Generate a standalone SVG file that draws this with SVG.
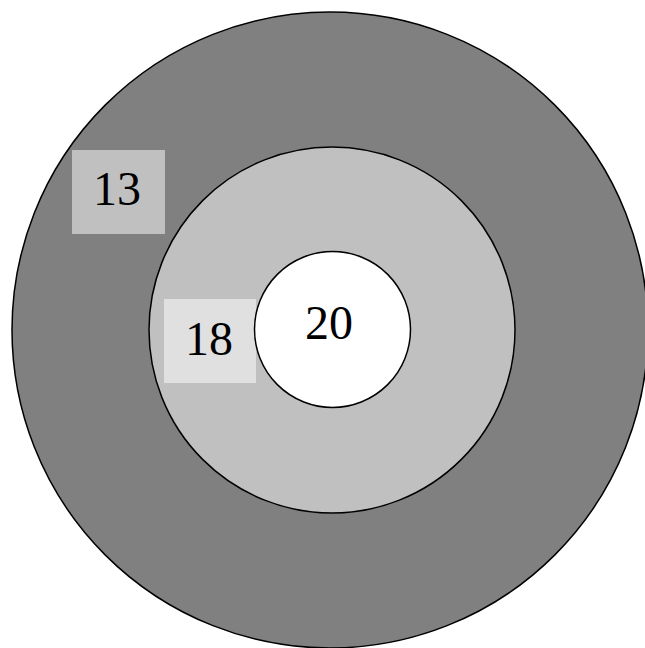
<svg xmlns="http://www.w3.org/2000/svg" width="645" height="648" viewBox="0 0 645 648">
<style>
.ring{stroke:#000;stroke-width:1.5}
.lbl{font-family:"Liberation Serif","Times New Roman",serif;font-size:48px;fill:#000;text-anchor:middle}
</style>
<rect width="645" height="648" fill="#fff"/>
<g id="outer">
<circle class="ring" cx="330" cy="330" r="318" fill="#808080"/>
</g>
<g id="label13">
<rect x="72" y="150" width="93" height="84" fill="#c0c0c0"/>
<text class="lbl" x="117" y="205">13</text>
</g>
<g id="middle">
<circle class="ring" cx="332" cy="330" r="183" fill="#c0c0c0"/>
</g>
<g id="label18">
<rect x="164" y="299" width="92" height="84" fill="#e0e0e0"/>
<text class="lbl" x="209" y="355">18</text>
</g>
<g id="inner">
<circle class="ring" cx="332.5" cy="329.5" r="78" fill="#fff"/>
<text class="lbl" x="329" y="339">20</text>
</g>
</svg>
